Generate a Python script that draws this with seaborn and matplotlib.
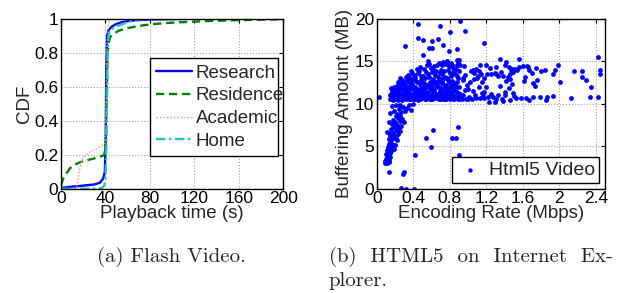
import seaborn as sns
import matplotlib.pyplot as plt
import numpy as np

# ---- (a) CDF of playback time ----
research_x = [0, 10, 20, 30, 35, 38, 39.5, 40.2, 40.8, 41.5, 43, 46, 50, 56, 65, 80, 120, 200]
research_y = [0.005, 0.012, 0.018, 0.025, 0.035, 0.06, 0.1, 0.3, 0.7, 0.9, 0.935, 0.955, 0.97, 0.982, 0.99, 0.996, 1.0, 1.0]
residence_x = [0, 2, 5, 8, 12, 17, 22, 28, 34, 39, 40.5, 41.2, 42, 43, 44, 47, 52, 60, 70, 85, 100, 130, 160, 200]
residence_y = [0.02, 0.06, 0.09, 0.12, 0.14, 0.155, 0.165, 0.175, 0.185, 0.198, 0.3, 0.6, 0.8, 0.86, 0.89, 0.91, 0.93, 0.945, 0.958, 0.97, 0.977, 0.986, 0.992, 0.997]
academic_x = [0, 13, 14, 15.5, 17, 18.5, 20, 23, 27, 32, 36, 39.5, 40.5, 41.5, 42.5, 43.5, 45, 200]
academic_y = [0.0, 0.0, 0.0, 0.06, 0.12, 0.16, 0.185, 0.2, 0.22, 0.235, 0.25, 0.265, 0.5, 0.85, 0.95, 0.99, 1.0, 1.0]
home_x = [0, 30, 37, 39, 40, 41, 41.8, 42.5, 43.5, 46, 52, 60, 68, 80, 200]
home_y = [0.0, 0.0, 0.005, 0.02, 0.05, 0.3, 0.7, 0.88, 0.92, 0.94, 0.96, 0.98, 0.995, 1.0, 1.0]

cdf_x_ticks = [0, 40, 80, 120, 160, 200]
cdf_y_ticks = [0, 0.2, 0.4, 0.6, 0.8, 1]
cdf_y_labels = ['0', '0.2', '0.4', '0.6', '0.8', '1']

# ---- (b) buffering amount vs encoding rate ----
outliers = [(0.02, 10.8), (0.447, 19.4), (0.916, 19.7), (0.69, 19.2), (0.80, 18.4), (0.967, 18.6),
            (1.18, 17.1), (0.31, 16.8), (0.45, 17.7), (0.51, 17.5), (0.60, 17.4), (0.676, 17.6),
            (0.575, 16.6), (0.61, 16.6), (0.73, 16.9), (0.79, 16.2), (0.88, 16.4), (0.51, 15.7),
            (0.567, 15.0), (0.88, 15.1), (0.62, 6.9), (0.545, 6.0), (0.59, 4.9), (0.89, 7.3),
            (0.82, 6.0), (0.865, 6.0), (0.42, 4.0), (0.90, 4.0), (0.14, 2.0), (0.30, 2.0),
            (0.29, 1.7), (0.265, 0.1), (0.32, 0.0), (0.41, 0.0)]
branch = [(0.09, 3.0), (0.10, 3.2), (0.11, 3.0), (0.12, 3.3), (0.13, 3.1), (0.10, 3.5), (0.12, 3.6),
          (0.14, 3.4), (0.09, 3.3), (0.11, 3.8), (0.13, 3.9), (0.15, 3.7), (0.10, 4.1), (0.12, 4.3),
          (0.14, 4.1), (0.16, 4.4), (0.11, 4.5), (0.13, 4.6), (0.15, 4.2), (0.12, 4.9), (0.14, 5.0),
          (0.16, 4.8), (0.18, 5.1), (0.13, 5.3), (0.15, 5.5), (0.17, 5.3), (0.19, 4.7), (0.20, 5.2),
          (0.13, 5.8), (0.15, 6.2), (0.17, 5.9), (0.19, 6.3), (0.21, 6.0), (0.23, 6.4), (0.14, 6.5),
          (0.18, 6.6), (0.22, 5.7), (0.16, 7.0), (0.19, 7.3), (0.21, 6.9), (0.24, 7.2), (0.26, 6.8),
          (0.17, 7.6), (0.22, 7.5), (0.27, 7.4), (0.11, 6.7), (0.13, 7.9), (0.18, 8.1), (0.20, 7.8),
          (0.23, 8.3), (0.25, 8.0), (0.28, 8.2), (0.30, 7.9), (0.21, 8.5), (0.26, 8.6), (0.15, 8.9),
          (0.19, 9.2), (0.22, 8.8), (0.24, 9.4), (0.27, 9.0), (0.29, 9.6), (0.31, 9.1), (0.33, 9.5),
          (0.17, 9.7), (0.21, 9.9), (0.35, 9.8), (0.38, 9.3), (0.26, 9.8), (0.40, 10.0)]
cloud = [(0.15, 10.6), (0.16, 11.2), (0.17, 10.9), (0.18, 11.7), (0.19, 10.5), (0.16, 11.8), (0.18, 10.4),
         (0.20, 11.3), (0.17, 11.5), (0.19, 12.0), (0.15, 11.0), (0.20, 10.8),
         (0.21, 11.9), (0.22, 10.6), (0.23, 11.4), (0.24, 12.3), (0.21, 10.9), (0.22, 11.6), (0.23, 10.4),
         (0.24, 11.0), (0.25, 11.8), (0.22, 12.1), (0.21, 11.3), (0.24, 10.7), (0.23, 12.6),
         (0.26, 10.5), (0.27, 11.2), (0.28, 12.4), (0.29, 10.8), (0.26, 11.7), (0.27, 12.9), (0.28, 11.0),
         (0.29, 11.6), (0.30, 12.1), (0.26, 12.2), (0.28, 10.4), (0.30, 10.9), (0.27, 10.7), (0.29, 12.7),
         (0.25, 13.0),
         (0.31, 11.4), (0.32, 10.6), (0.33, 12.8), (0.34, 11.1), (0.31, 12.3), (0.32, 13.2), (0.33, 10.9),
         (0.34, 12.0), (0.35, 10.5), (0.31, 10.8), (0.32, 11.8), (0.33, 11.5), (0.34, 13.4), (0.35, 11.9),
         (0.30, 11.4), (0.35, 12.6),
         (0.36, 10.7), (0.37, 11.3), (0.38, 12.5), (0.39, 10.9), (0.36, 13.0), (0.37, 12.1), (0.38, 11.0),
         (0.39, 13.6), (0.40, 11.7), (0.36, 11.8), (0.37, 10.5), (0.38, 13.9), (0.39, 12.3), (0.40, 10.6),
         (0.36, 12.5), (0.40, 12.9),
         (0.41, 11.2), (0.42, 10.5), (0.43, 12.7), (0.44, 11.5), (0.41, 13.4), (0.42, 12.0), (0.43, 10.8),
         (0.44, 14.1), (0.45, 11.0), (0.41, 10.7), (0.42, 13.1), (0.43, 11.9), (0.44, 12.6), (0.45, 13.6),
         (0.45, 10.4), (0.42, 11.4),
         (0.46, 11.6), (0.47, 10.6), (0.48, 12.8), (0.49, 11.1), (0.46, 13.9), (0.47, 12.3), (0.48, 10.9),
         (0.49, 13.3), (0.50, 11.8), (0.46, 10.5), (0.47, 14.3), (0.48, 11.5), (0.49, 12.1), (0.50, 10.7),
         (0.50, 12.9), (0.47, 11.2),
         (0.51, 11.0), (0.52, 12.4), (0.53, 10.6), (0.54, 13.7), (0.51, 12.0), (0.52, 10.8), (0.53, 11.9),
         (0.54, 11.3), (0.55, 14.5), (0.51, 13.3), (0.52, 11.5), (0.53, 13.0), (0.54, 10.5), (0.55, 12.2),
         (0.55, 10.9), (0.52, 14.1),
         (0.56, 11.4), (0.57, 10.7), (0.58, 12.6), (0.59, 11.0), (0.56, 13.5), (0.57, 12.0), (0.58, 10.5),
         (0.59, 14.2), (0.60, 11.6), (0.56, 10.9), (0.57, 13.1), (0.58, 11.8), (0.59, 12.5), (0.60, 10.6),
         (0.60, 13.7), (0.57, 14.7),
         (0.61, 12.2), (0.62, 10.8), (0.63, 11.5), (0.64, 13.4), (0.61, 10.5), (0.62, 12.9), (0.63, 14.4),
         (0.64, 11.1), (0.65, 12.0), (0.61, 11.7), (0.62, 14.0), (0.63, 10.7), (0.64, 12.6), (0.65, 10.9),
         (0.65, 13.8), (0.62, 11.3),
         (0.66, 11.2), (0.67, 12.7), (0.68, 10.6), (0.69, 13.6), (0.66, 14.6), (0.67, 10.9), (0.68, 12.0),
         (0.69, 11.5), (0.70, 14.0), (0.66, 12.3), (0.67, 13.2), (0.68, 14.8), (0.69, 10.5), (0.70, 11.8),
         (0.70, 12.9), (0.68, 11.1), (0.66, 10.7),
         (0.71, 10.8), (0.72, 12.4), (0.73, 11.3), (0.74, 13.9), (0.71, 14.5), (0.72, 11.0), (0.73, 12.9),
         (0.74, 10.6), (0.75, 12.1), (0.71, 11.7), (0.72, 13.5), (0.73, 14.9), (0.74, 11.5), (0.75, 10.9),
         (0.75, 13.2), (0.73, 10.5), (0.71, 12.6),
         (0.76, 11.4), (0.77, 13.0), (0.78, 10.7), (0.79, 14.4), (0.76, 12.2), (0.77, 10.9), (0.78, 12.8),
         (0.79, 11.2), (0.80, 13.6), (0.76, 14.7), (0.77, 11.8), (0.78, 14.0), (0.79, 12.5), (0.80, 10.6),
         (0.80, 11.9), (0.78, 11.5), (0.76, 10.5), (0.77, 15.0),
         (0.81, 11.1), (0.82, 12.7), (0.83, 10.6), (0.84, 14.2), (0.81, 13.3), (0.82, 11.4), (0.83, 12.1),
         (0.84, 11.0), (0.85, 13.8), (0.81, 14.8), (0.82, 10.8), (0.83, 13.6), (0.84, 12.5), (0.85, 11.6),
         (0.85, 10.5), (0.82, 14.5), (0.83, 11.8), (0.81, 12.2),
         (0.86, 12.3), (0.87, 10.7), (0.88, 14.6), (0.89, 11.3), (0.86, 13.5), (0.87, 12.0), (0.88, 11.0),
         (0.89, 13.0), (0.90, 15.2), (0.86, 10.9), (0.87, 14.1), (0.88, 12.6), (0.89, 10.5), (0.90, 12.0),
         (0.91, 11.2), (0.90, 13.9), (0.91, 14.6), (0.88, 13.3), (0.87, 11.5), (0.89, 14.9), (0.91, 10.8),
         (0.90, 10.6)]
mid_band = [(0.93, 10.6), (0.95, 11.0), (0.97, 13.4), (0.99, 12.2), (1.01, 10.8), (1.03, 13.8), (1.05, 11.5),
            (1.07, 12.9), (1.09, 14.1), (1.11, 13.3), (1.13, 10.7), (1.15, 12.5), (1.17, 13.0), (0.94, 12.8),
            (0.96, 14.4), (0.98, 10.5), (1.00, 11.7), (1.02, 12.6), (1.04, 10.6), (1.06, 13.6), (1.08, 11.0),
            (1.10, 13.0), (1.12, 12.0), (1.14, 13.5), (1.16, 10.9), (1.18, 11.4), (0.95, 13.0), (1.05, 14.0),
            (1.12, 13.8), (1.00, 10.6), (1.09, 10.7), (0.97, 11.6), (1.15, 11.3), (1.13, 14.6)]
tail = [(1.345, 15.3), (1.56, 15.3), (2.42, 15.5), (2.44, 14.0), (2.44, 13.5), (2.35, 12.0), (2.34, 10.8),
        (2.42, 10.8), (2.16, 13.8), (2.25, 13.8), (2.25, 13.2), (2.29, 12.8), (2.13, 10.7), (2.01, 12.6),
        (1.98, 14.5), (1.95, 14.0), (1.93, 13.5), (1.84, 14.0), (1.80, 13.9), (1.745, 14.2), (1.76, 12.8),
        (1.73, 12.1), (1.71, 12.4), (1.93, 10.9), (1.87, 10.8), (1.85, 10.4), (1.79, 10.8), (1.71, 10.8),
        (1.64, 10.7), (1.67, 10.4), (1.575, 10.7), (1.62, 13.1), (1.61, 12.7), (1.655, 14.3), (1.67, 14.0),
        (1.65, 14.4), (1.60, 14.4), (1.70, 13.6), (1.56, 14.3), (1.54, 14.0), (1.48, 12.3), (1.46, 12.9),
        (1.44, 13.2), (1.40, 14.5), (1.42, 14.9), (1.445, 14.3), (1.48, 14.1), (1.49, 13.7), (1.51, 14.1),
        (1.46, 13.5), (1.47, 14.0), (1.385, 13.3), (1.36, 13.7), (1.31, 14.3), (1.29, 13.6), (1.255, 13.5),
        (1.24, 14.2), (1.20, 14.5), (1.21, 13.5), (1.31, 13.5), (1.33, 13.3), (1.42, 12.7), (1.345, 12.1),
        (1.445, 11.8), (1.40, 11.4), (1.40, 11.0), (1.20, 12.0), (1.255, 11.2), (1.27, 10.8), (1.33, 11.0),
        (1.22, 10.8), (1.31, 10.6), (1.37, 10.6), (1.38, 10.3), (1.455, 10.4), (1.50, 10.9), (1.53, 10.7),
        (1.49, 11.3), (1.29, 10.2), (1.235, 10.2), (1.18, 10.7)]

rate_ticks = [0, 0.4, 0.8, 1.2, 1.6, 2, 2.4]
rate_labels = ['0', '0.4', '0.8', '1.2', '1.6', '2', '2.4']
buffer_ticks = [0, 5, 10, 15, 20]

points = np.array(outliers + branch + cloud + mid_band + tail)

sns.set_style('white')
plt.rcParams['font.family'] = ['Liberation Sans', 'DejaVu Sans']
plt.rcParams['font.size'] = 13.5

fig = plt.figure(figsize=(6.36, 2.93), dpi=100)
ax1 = fig.add_axes([0.0959, 0.356, 0.3495, 0.580])
ax2 = fig.add_axes([0.5923, 0.356, 0.359, 0.580])

sns.lineplot(x=research_x, y=research_y, ax=ax1, color='#0000ff', lw=1.7, estimator=None, sort=False, label='Research')
sns.lineplot(x=residence_x, y=residence_y, ax=ax1, color='#008000', lw=1.7, estimator=None, sort=False,
             label='Residence', linestyle=(0, (3.5, 2)))
sns.lineplot(x=academic_x, y=academic_y, ax=ax1, color='#ff8c8c', lw=1.0, estimator=None, sort=False,
             label='Academic', linestyle=(0, (1, 1.5)))
sns.lineplot(x=home_x, y=home_y, ax=ax1, color='#22c4c4', lw=1.7, estimator=None, sort=False,
             label='Home', linestyle=(0, (4, 1.5, 1, 1.5)))

ax1.set_xlim(0, 200)
ax1.set_ylim(0, 1)
ax1.set_xticks(cdf_x_ticks)
ax1.set_yticks(cdf_y_ticks)
ax1.set_yticklabels(cdf_y_labels)
ax1.set_xlabel('Playback time (s)', labelpad=-1)
ax1.set_ylabel('CDF', labelpad=1)
ax1.legend(loc='lower left', bbox_to_anchor=(0.40, 0.19, 0.577, 0.61), mode='expand', fancybox=False,
           edgecolor='black', framealpha=1, handlelength=1.9, handletextpad=0.2, labelspacing=0.3,
           borderpad=0.35, borderaxespad=0, fontsize=13.5).get_frame().set_linewidth(1.0)

sns.scatterplot(x=points[:, 0], y=points[:, 1], ax=ax2, color='#0000ff', s=12, linewidth=0,
                marker='o', label='Html5 Video')
ax2.set_xlim(0, 2.5)
ax2.set_ylim(0, 20)
ax2.set_xticks(rate_ticks)
ax2.set_xticklabels(rate_labels)
ax2.set_yticks(buffer_ticks)
ax2.set_xlabel('Encoding Rate (Mbps)', labelpad=-1)
ax2.set_ylabel('Buffering Amount (MB)', labelpad=1)
ax2.legend(loc='lower right', fancybox=False, edgecolor='black', framealpha=1, markerscale=0.9,
           handlelength=1.4, handletextpad=0.3, borderpad=0.2, borderaxespad=0.3,
           fontsize=14).get_frame().set_linewidth(1.0)

for ax in (ax1, ax2):
    ax.grid(True, linestyle=':', color='#a0a0a0', linewidth=0.8)
    ax.set_axisbelow(True)
    ax.tick_params(direction='in', length=3, width=0.8, top=True, right=True, pad=2, labelsize=12.5,
                   colors='black')
    for s in ax.spines.values():
        s.set_color('black')
        s.set_linewidth(1.0)

fig.text(0.269, 0.123, '(a) Flash Video.', family='cmr10', fontsize=15, ha='center', va='center')
fig.text(0.517, 0.123, '(b)  HTML5  on  Internet  Ex-', family='cmr10', fontsize=15, ha='left', va='center')
fig.text(0.517, 0.042, 'plorer.', family='cmr10', fontsize=15, ha='left', va='center')

fig.savefig('out.png', dpi=100)
